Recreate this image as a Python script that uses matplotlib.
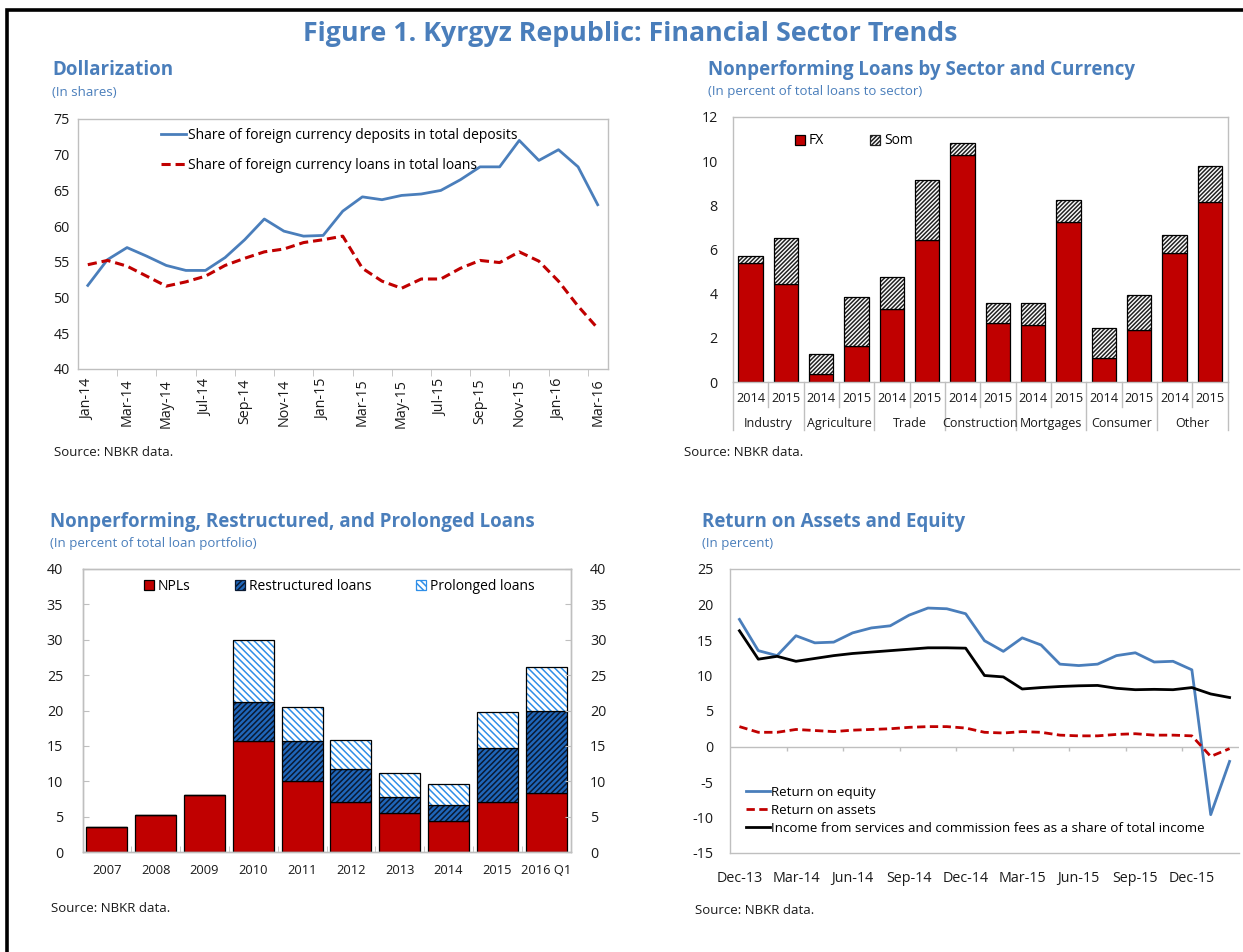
import matplotlib
matplotlib.use("Agg")
import matplotlib.pyplot as plt
import matplotlib.transforms as mtransforms
from matplotlib.patches import Rectangle, Patch
import numpy as np

plt.rcParams['font.family'] = ['Open Sans', 'DejaVu Sans']
plt.rcParams['hatch.linewidth'] = 1.1

# ---------------- data ----------------
dollar_months = ["Jan-14", "Feb-14", "Mar-14", "Apr-14", "May-14", "Jun-14", "Jul-14", "Aug-14",
                 "Sep-14", "Oct-14", "Nov-14", "Dec-14", "Jan-15", "Feb-15", "Mar-15", "Apr-15",
                 "May-15", "Jun-15", "Jul-15", "Aug-15", "Sep-15", "Oct-15", "Nov-15", "Dec-15",
                 "Jan-16", "Feb-16", "Mar-16"]
fx_deposits = [51.7, 55.3, 57.0, 55.8, 54.5, 53.8, 53.8, 55.6, 58.1, 61.0, 59.3, 58.6, 58.7,
               62.1, 64.1, 63.7, 64.3, 64.5, 65.0, 66.5, 68.3, 68.3, 72.0, 69.2, 70.7, 68.3, 63.0]
fx_loans = [54.6, 55.2, 54.4, 53.0, 51.6, 52.2, 53.0, 54.5, 55.5, 56.4, 56.8, 57.7, 58.1,
            58.6, 54.1, 52.3, 51.3, 52.6, 52.6, 54.1, 55.2, 54.9, 56.4, 55.1, 52.3, 48.8, 45.7]

npl_groups = ["Industry", "Agriculture", "Trade", "Construction", "Mortgages", "Consumer", "Other"]
npl_years = ["2014", "2015"]
npl_fx = [5.37, 4.43, 0.38, 1.63, 3.30, 6.43, 10.27, 2.69, 2.57, 7.23, 1.10, 2.36, 5.85, 8.14]
npl_som = [0.35, 2.07, 0.91, 2.23, 1.45, 2.72, 0.53, 0.87, 0.99, 1.03, 1.34, 1.57, 0.82, 1.63]

port_years = ["2007", "2008", "2009", "2010", "2011", "2012", "2013", "2014", "2015", "2016 Q1"]
port_npl = [3.5, 5.2, 8.1, 15.7, 10.1, 7.0, 5.45, 4.35, 7.0, 8.4]
port_restr = [0.0, 0.0, 0.0, 5.5, 5.6, 4.7, 2.35, 2.25, 7.7, 11.5]
port_prol = [0.0, 0.0, 0.0, 8.8, 4.8, 4.15, 3.35, 2.95, 5.1, 6.25]

roe_months = ["Dec-13", "Jan-14", "Feb-14", "Mar-14", "Apr-14", "May-14", "Jun-14", "Jul-14",
              "Aug-14", "Sep-14", "Oct-14", "Nov-14", "Dec-14", "Jan-15", "Feb-15", "Mar-15",
              "Apr-15", "May-15", "Jun-15", "Jul-15", "Aug-15", "Sep-15", "Oct-15", "Nov-15",
              "Dec-15", "Jan-16", "Feb-16"]
roe = [17.9, 13.5, 12.8, 15.6, 14.6, 14.7, 16.0, 16.7, 17.0, 18.5, 19.5, 19.4, 18.7, 14.9,
       13.4, 15.3, 14.3, 11.6, 11.4, 11.6, 12.8, 13.2, 11.9, 12.0, 10.8, -9.6, -2.1]
roa = [2.8, 2.0, 2.0, 2.4, 2.25, 2.1, 2.3, 2.4, 2.5, 2.7, 2.8, 2.8, 2.6, 2.0, 1.9, 2.1,
       2.0, 1.6, 1.5, 1.5, 1.7, 1.8, 1.6, 1.6, 1.5, -1.4, -0.3]
fee_share = [16.3, 12.3, 12.7, 12.0, 12.4, 12.8, 13.1, 13.3, 13.5, 13.7, 13.9, 13.9, 13.85,
             10.0, 9.8, 8.1, 8.3, 8.45, 8.55, 8.6, 8.2, 8.0, 8.05, 8.0, 8.3, 7.4, 6.9]

# ---------------- style ----------------
W, H = 1243, 952
BLUE_T = '#4A7EBB'
LINE_BLUE = '#4A7EBB'
RED = '#C00000'
SPINE = '#BFBFBF'
TXT = '#1a1a1a'
TICK_FS = 10.3
RES_FILL = '#1F66BA'
RES_HATCH = '#0A1A33'
PRO_HATCH = '#2F8FE8'

fig = plt.figure(figsize=(W / 100, H / 100), dpi=100)
fig.patch.set_facecolor('white')


def px_axes(l, t, r, b):
    return fig.add_axes([l / W, 1 - b / H, (r - l) / W, (b - t) / H])


def ftext(x, y, s, **kw):
    fig.text(x / W, 1 - y / H, s, **kw)


def style(ax):
    for s in ax.spines.values():
        s.set_color(SPINE)
        s.set_linewidth(1.0)
    ax.tick_params(colors=SPINE, labelcolor=TXT, labelsize=TICK_FS)


# border
fig.add_artist(Rectangle((7 / W, -0.05), (1250 - 7) / W, 1 - 10 / H + 0.05, transform=fig.transFigure,
                         fill=False, lw=2.6, ec='black', clip_on=False))

ftext(630, 34, "Figure 1. Kyrgyz Republic: Financial Sector Trends", ha='center', va='center',
      fontsize=19.3, fontweight='bold', color=BLUE_T)

# panel titles
for (x, y, t, sub) in [(52, 70, "Dollarization", "(In shares)"),
                       (708, 70, "Nonperforming Loans by Sector and Currency", "(In percent of total loans to sector)"),
                       (50, 522, "Nonperforming, Restructured, and Prolonged Loans", "(In percent of total loan portfolio)"),
                       (702, 522, "Return on Assets and Equity", "(In percent)")]:
    ftext(x, y, t, ha='left', va='center', fontsize=13.5, fontweight='bold', color=BLUE_T)
    ftext(x, y + 22, sub, ha='left', va='center', fontsize=9.5, color=BLUE_T)

for (x, y) in [(54, 453), (684, 453), (51, 908), (695, 911)]:
    ftext(x, y, "Source: NBKR data.", ha='left', va='center', fontsize=9.5, color=TXT)

# ---------------- panel 1: Dollarization ----------------
ax1 = px_axes(78, 119, 607.5, 369)
style(ax1)
x1 = np.arange(len(dollar_months))
ax1.plot(x1, fx_deposits, color=LINE_BLUE, lw=2.0,
         label="Share of foreign currency deposits in total deposits")
ax1.plot(x1, fx_loans, color=RED, lw=2.2, ls=(0, (3, 1.6)),
         label="Share of foreign currency loans in total loans")
ax1.set_xlim(-0.5, len(dollar_months) - 0.5)
ax1.set_ylim(40, 75)
ax1.set_yticks(np.arange(40, 76, 5))
ax1.set_xticks(x1[::2])
ax1.set_xticklabels(dollar_months[::2], rotation=90)
ax1.set_xticks(x1[1::2] + 0.5, minor=True)
ax1.tick_params(axis='x', which='major', length=0, pad=7)
ax1.tick_params(axis='x', which='minor', length=5, color=SPINE, direction='out')
ax1.tick_params(axis='y', length=0, pad=6)
ax1.legend(loc='upper left', bbox_to_anchor=(0.14, 1.0), frameon=False, fontsize=10,
           handlelength=1.8, handletextpad=0.1, labelspacing=1.1, borderaxespad=0.25)

# ---------------- panel 2: NPL by sector ----------------
ax2 = px_axes(733, 117, 1227.5, 382)
style(ax2)
x2 = np.arange(len(npl_fx))
ax2.bar(x2, npl_fx, width=0.69, color=RED, edgecolor='black', lw=0.9, label='FX')
ax2.bar(x2, npl_som, bottom=npl_fx, width=0.69, color='white', edgecolor='#222222', hatch='////////',
        lw=0, label='Som')
ax2.bar(x2, npl_som, bottom=npl_fx, width=0.69, fill=False, edgecolor='black', lw=0.9)
ax2.set_xlim(-0.5, len(npl_fx) - 0.5)
ax2.set_ylim(0, 12)
ax2.set_yticks(np.arange(0, 13, 2))
ax2.tick_params(axis='y', length=0, pad=11)
ax2.set_xticks(x2)
ax2.set_xticklabels([npl_years[i % 2] for i in x2], fontsize=9.2)
ax2.tick_params(axis='x', length=0, pad=7)
trans2 = mtransforms.blended_transform_factory(ax2.transData, ax2.transAxes)
for g, name in enumerate(npl_groups):
    ax2.text(2 * g + 0.5, -0.158, name, transform=trans2, ha='center', va='center',
             fontsize=9.0, color=TXT)
# separators
for b in np.arange(-0.5, len(npl_fx), 1.0):
    long = (round(b + 0.5) % 2 == 0)
    ax2.plot([b, b], [0, -0.18 if long else -0.095], transform=trans2, color=SPINE, lw=1.0,
             clip_on=False)
h_fx = Patch(facecolor=RED, edgecolor='black', lw=0.9)
h_som = Patch(facecolor='white', edgecolor='#222222', hatch='////////', lw=0.9)
ax2.legend([h_fx, h_som], ['FX', 'Som'], loc='upper left', bbox_to_anchor=(0.10, 0.985),
           ncol=2, frameon=False, fontsize=10, handlelength=0.75, handleheight=0.75,
           handletextpad=0.25, columnspacing=3.3)

# ---------------- panel 3: NPL/restructured/prolonged ----------------
ax3 = px_axes(82.5, 569, 570.5, 852)
style(ax3)
x3 = np.arange(len(port_years))
bot2 = np.array(port_npl)
bot3 = bot2 + np.array(port_restr)
bw = 0.84
ax3.bar(x3, port_npl, width=bw, color=RED, edgecolor='black', lw=0.9)
ax3.bar(x3, port_restr, bottom=bot2, width=bw, color=RES_FILL, edgecolor=RES_HATCH, hatch='//////', lw=0)
ax3.bar(x3, port_restr, bottom=bot2, width=bw, fill=False, edgecolor='black', lw=0.9)
ax3.bar(x3, port_prol, bottom=bot3, width=bw, color='white', edgecolor=PRO_HATCH, hatch='\\\\\\\\\\', lw=0)
ax3.bar(x3, port_prol, bottom=bot3, width=bw, fill=False, edgecolor='black', lw=0.9)
ax3.set_xlim(-0.5, len(port_years) - 0.5)
ax3.set_ylim(0, 40)
ax3.set_yticks(np.arange(0, 41, 5))
ax3.set_xticks(x3)
ax3.set_xticklabels(port_years, fontsize=9.3)
ax3.set_xticks(x3[:-1] + 0.5, minor=True)
ax3.tick_params(axis='x', which='major', length=0, pad=9)
ax3.tick_params(axis='x', which='minor', length=4, direction='in', color=SPINE)
ax3.tick_params(axis='y', length=4, direction='in', color=SPINE, pad=14)
ax3r = ax3.twinx()
style(ax3r)
ax3r.set_ylim(0, 40)
ax3r.set_yticks(np.arange(0, 41, 5))
ax3r.tick_params(axis='y', length=4, direction='in', color=SPINE, pad=14)
h_npl = Patch(facecolor=RED, edgecolor='black', lw=0.9)
h_res = Patch(facecolor=RES_FILL, edgecolor=RES_HATCH, hatch='//////', lw=0.9)
h_pro = Patch(facecolor='white', edgecolor=PRO_HATCH, hatch='\\\\\\\\\\', lw=0.9)
ax3.legend([h_npl, h_res, h_pro], ['NPLs', 'Restructured loans', 'Prolonged loans'],
           loc='upper left', bbox_to_anchor=(0.10, 1.01), ncol=3, frameon=False, fontsize=10,
           handlelength=0.75, handleheight=0.75, handletextpad=0.25, columnspacing=3.2)

# ---------------- panel 4: ROA / ROE ----------------
ax4 = px_axes(730, 569, 1239, 853)
style(ax4)
x4 = np.arange(len(roe_months))
ax4.axhline(0, color=SPINE, lw=1.0, zorder=1)
ax4.vlines(x4[2:-1:3] + 0.5, -0.6, 0, color=SPINE, lw=1.0, zorder=1)
ax4.plot(x4, roe, color=LINE_BLUE, lw=2.0, label='Return on equity')
ax4.plot(x4, roa, color=RED, lw=2.0, ls=(0, (3, 1.6)), label='Return on assets')
ax4.plot(x4, fee_share, color='black', lw=2.0,
         label='Income from services and commission fees as a share of total income')
ax4.set_xlim(-0.5, len(roe_months) - 0.5)
ax4.set_ylim(-15, 25)
ax4.set_yticks(np.arange(-15, 26, 5))
ax4.set_yticklabels([str(v) for v in np.arange(-15, 26, 5)])
ax4.set_xticks(x4[::3])
ax4.set_xticklabels(roe_months[::3], fontsize=10.3)
ax4.tick_params(axis='x', length=0, pad=13)
ax4.tick_params(axis='y', length=0, pad=12)
ax4.spines['right'].set_visible(False)
ax4.legend(loc='lower left', bbox_to_anchor=(0.02, 0.045), frameon=False, fontsize=9.6,
           handlelength=1.85, handletextpad=0.05, labelspacing=0.38, borderaxespad=0.0)

fig.savefig('out.png', dpi=100)
